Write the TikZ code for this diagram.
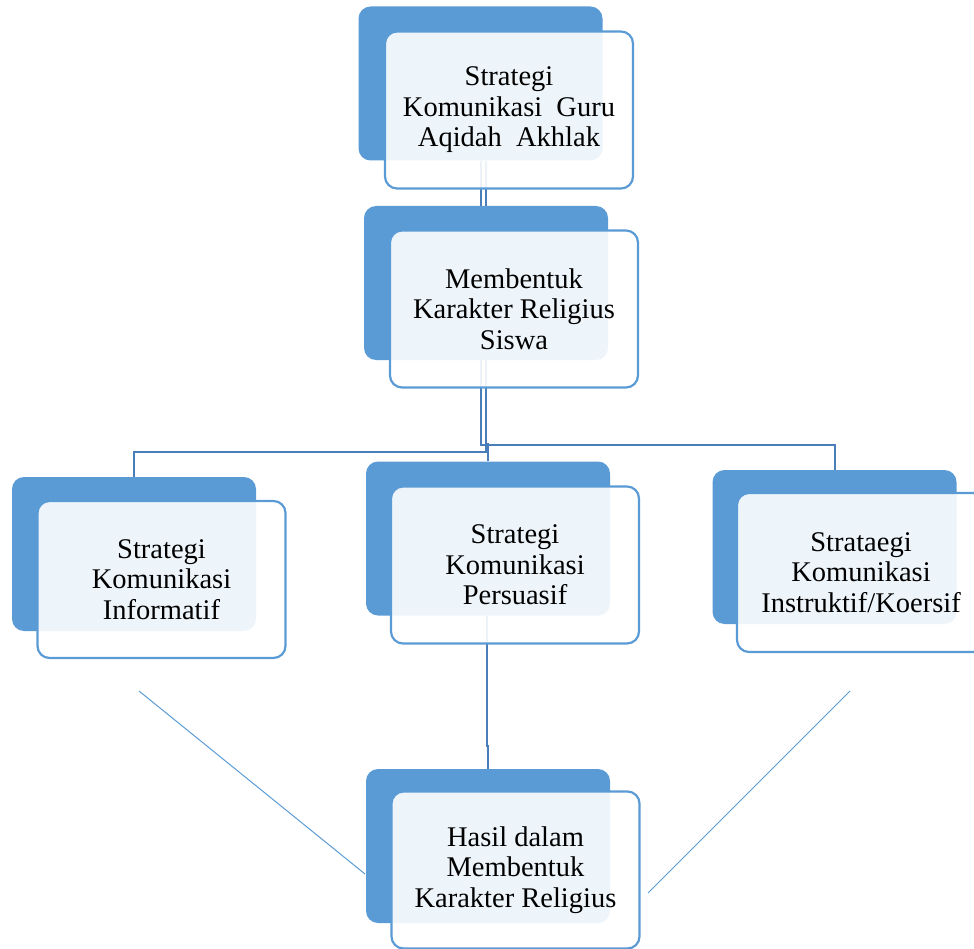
\documentclass[tikz,border=0pt]{standalone}
\usepackage{fontspec}
\setmainfont{Liberation Serif}
\usetikzlibrary{calc}
\definecolor{accent}{HTML}{5B9BD5}
\definecolor{connblue}{HTML}{4A7EBB}
\tikzset{
  backbox/.style={rectangle, rounded corners=12pt, fill=accent, draw=none,
    minimum width=244pt, minimum height=154pt, inner sep=0pt},
  frontbox/.style={rectangle, rounded corners=12pt, fill=white, fill opacity=0.9,
    text opacity=1, draw=accent, line width=2.2pt, minimum width=248pt,
    minimum height=157pt, inner sep=2pt, align=center, text=black,
    font=\fontsize{28.5}{30.5}\selectfont},
  conn/.style={draw=connblue, line width=2pt},
  thinline/.style={draw=accent, line width=1pt}
}
\begin{document}
\begin{tikzpicture}[x=1pt,y=-1pt]
\clip (0,0) rectangle (974,949);
% invisible anchors for positions
\path (480.5,83.5) coordinate (c1) (486,283) coordinate (c2) (134,554) coordinate (c3)
      (488,538.5) coordinate (c4) (488,846) coordinate (c5) (834.5,547) coordinate (c6);
\node[backbox, draw=none, fill=none] (b1) at (c1) {};
\node[backbox, draw=none, fill=none] (b2) at (c2) {};
\node[backbox, draw=none, fill=none] (b3) at (c3) {};
\node[backbox, draw=none, fill=none] (b4) at (c4) {};
\node[backbox, draw=none, fill=none] (b5) at (c5) {};
\node[backbox, draw=none, fill=none] (b6) at (c6) {};
% connectors (behind the boxes)
\draw[conn] (b1.south) -- (b1.south |- b2.north);
\draw[conn] (b2.north |- b1.south) -- (b2.north);
\draw[conn] (b2.south) -- ++(0,92) -| (b3.north);
\draw[conn] ([xshift=-5pt]b2.south) -- ++(0,85) -| (b6.north);
\draw[conn] (b4.north) -- ++(0,-18);
\draw[conn] ([xshift=-1pt]b4.south) -- ++(0,130) -- ++(1,0) -- (b5.north);
% diagonal lines
\coordinate (dl1) at (139,691);
\coordinate (dl2) at (365,874);
\coordinate (dr1) at (850,691);
\coordinate (dr2) at (648,893);
\draw[thinline] (dl1) -- (dl2);
\draw[thinline] (dr1) -- (dr2);
% boxes
\node[backbox] at (b1) {};
\node[frontbox] (f1) at (509,110) {Strategi\\Komunikasi\ \ Guru\\Aqidah\ \ Akhlak};
\node[backbox] at (b2) {};
\node[frontbox] (f2) at (514,309) {Membentuk\\Karakter Religius\\Siswa};
\node[backbox] at (b3) {};
\node[frontbox] (f3) at (161.5,579.5) {Strategi\\Komunikasi\\Informatif};
\node[backbox] at (b4) {};
\node[frontbox] (f4) at (515,565) {Strategi\\Komunikasi\\Persuasif};
\node[backbox] at (b5) {};
\node[frontbox] (f5) at (515.5,870) {Hasil dalam\\Membentuk\\Karakter Religius};
\node[backbox] at (b6) {};
\node[frontbox, minimum height=159pt] (f6) at (861,572.5) {Strataegi\\Komunikasi\\Instruktif/Koersif};
\end{tikzpicture}
\end{document}
